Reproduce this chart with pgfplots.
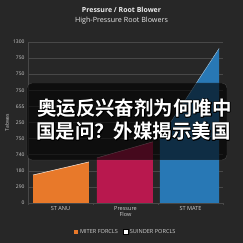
\documentclass[border=0pt]{standalone}
\usepackage{pgfplots}
\pgfplotsset{compat=1.18}
\usepackage{fontspec}
\setmainfont{Open Sans}
\newfontfamily\cjk{Noto Sans CJK SC Bold}
\definecolor{bg}{HTML}{272727}
\definecolor{gridc}{HTML}{484848}
\definecolor{tickc}{HTML}{CFCFCF}
\definecolor{c1}{HTML}{E8792A}
\definecolor{c2}{HTML}{B8184E}
\definecolor{c3}{HTML}{2878B5}
\newcommand{\outl}[3]{% x, y, text
  \node[anchor=west,inner sep=0pt,text=white,font=\cjk\fontsize{19.5}{20}\selectfont] at (#1bp,#2bp)
   {\special{pdf:literal direct 1 Tr 1.5 w 1 j 0 0 0 RG}\rlap{#3}\special{pdf:literal direct 0 Tr}#3};}
\begin{document}
\begin{tikzpicture}
\fill[bg] (0,0) rectangle (243bp,243bp);
\useasboundingbox (0,0) rectangle (243bp,243bp);
\begin{axis}[at={(28bp,40bp)}, anchor=south west, scale only axis,
  width=195bp, height=161bp,
  xmin=0.5, xmax=3.5, ymin=0, ymax=10,
  axis lines=left, axis line style={-, draw=gridc, line width=0.6pt},
  ytick={0,...,10},
  yticklabels={0,290,180,740,750,250,655,750,750,750,1300},
  xtick={1,2,3},
  xticklabels={ST ANU,{Pressure\\Flow},ST MATE},
  xticklabel style={align=center, font=\fontsize{5.6}{6.4}\selectfont, text=tickc},
  yticklabel style={font=\fontsize{5}{6}\selectfont, text=tickc},
  major tick length=0pt,
  minor xtick={0.5,1.5,2.5,3.5}, minor tick length=2bp, tick align=outside,
  minor tick style={draw=gridc},
  ymajorgrids, grid style={draw=gridc, line width=0.5pt},
  ylabel={Tabwas}, ylabel style={at={(axis description cs:-0.108,0.5)}, anchor=center, font=\fontsize{5}{6}\selectfont, text=tickc},
  legend style={at={(0.5,-0.18)}, anchor=center, draw=none, fill=none, text=tickc,
    font=\fontsize{5.6}{6.4}\selectfont, legend columns=2,
    /tikz/every even column/.append style={column sep=3bp}},
  legend image code/.code={\fill[#1] (0bp,-2.2bp) rectangle (4.6bp,2.4bp);},
]
\addplot[fill=c1, draw=none] coordinates {(0.577,1.74) (1.438,2.55)} \closedcycle;
\addlegendentry{MITER FORCLS}
\addlegendimage{fill=white}
\addlegendentry{SUINDER PORCLS}
\addplot[fill=c2, draw=none, forget plot] coordinates {(1.56,2.8) (2.42,3.8)} \closedcycle;
\addplot[fill=c3, draw=none, forget plot] coordinates {(2.53,4.0) (3.44,9.6)} \closedcycle;
\addplot[white!85!c1, line width=0.5pt, forget plot] coordinates {(0.577,1.74) (1.438,2.55)};
\addplot[white!60!c2, line width=0.4pt, forget plot] coordinates {(1.56,2.8) (2.42,3.8)};
\addplot[white!60!c3, line width=0.4pt, forget plot] coordinates {(2.53,4.0) (3.44,9.6)};
\end{axis}
\node[font=\bfseries\fontsize{7}{8}\selectfont, text=white!92!black] at (121.5bp,233bp) {Pressure / Root Blower};
\node[font=\fontsize{7.2}{8}\selectfont, text=white!90!black] at (121.5bp,222bp) {High-Pressure Root Blowers};
\fill[black, opacity=0.62, rounded corners=5bp] (27bp,83bp) rectangle (227bp,160bp);
\draw[gray, opacity=0.4, rounded corners=5bp, line width=0.4pt] (27bp,83bp) rectangle (227bp,160bp);
\outl{37}{135}{奥运反兴奋剂为何唯中}
\outl{36}{112}{国是问？外媒揭示美国}
\end{tikzpicture}
\end{document}
